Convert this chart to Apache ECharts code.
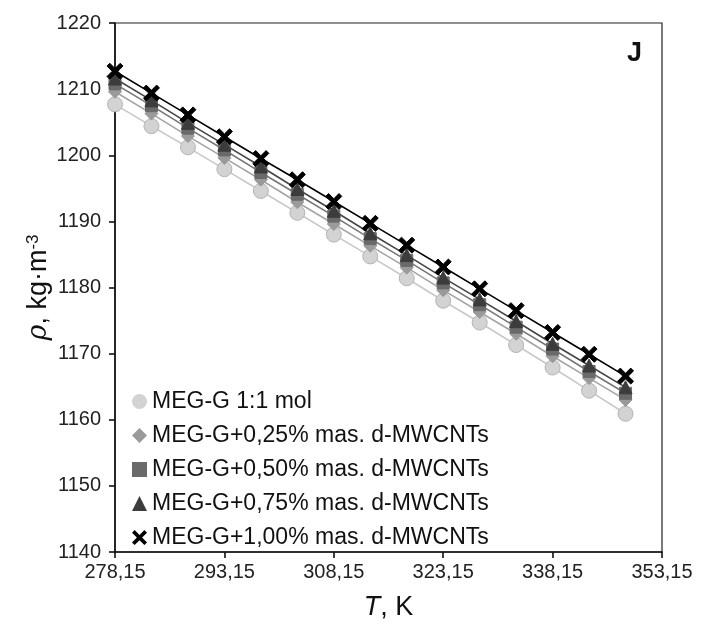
<!DOCTYPE html>
<html>
<head>
<meta charset="utf-8">
<script src="https://cdn.jsdelivr.net/npm/echarts@6/dist/echarts.min.js"></script>
<style>
  html, body { margin: 0; padding: 0; background: #fff; }
  #chart { width: 712px; height: 626px; }
</style>
</head>
<body>
<div id="chart"></div>
<script>
// Temperature points, K
const temperatures = [278.15, 283.15, 288.15, 293.15, 298.15, 303.15, 308.15, 313.15,
                      318.15, 323.15, 328.15, 333.15, 338.15, 343.15, 348.15];

// Density, kg·m-3
const rhoBase = [1207.7, 1204.4, 1201.2, 1197.9, 1194.6, 1191.3, 1188.0, 1184.7,
                 1181.4, 1178.0, 1174.7, 1171.3, 1167.9, 1164.4, 1160.9];
const rho025 = [1209.6, 1206.3, 1202.9, 1199.6, 1196.3, 1192.9, 1189.6, 1186.3,
                1183.0, 1179.6, 1176.3, 1173.0, 1169.6, 1166.3, 1163.0];
const rho050 = [1210.8, 1207.5, 1204.1, 1200.8, 1197.4, 1194.1, 1190.8, 1187.4,
                1184.1, 1180.7, 1177.4, 1174.0, 1170.7, 1167.3, 1164.0];
const rho075 = [1211.6, 1208.3, 1204.9, 1201.6, 1198.3, 1194.9, 1191.6, 1188.2,
                1184.9, 1181.5, 1178.2, 1174.9, 1171.5, 1168.2, 1164.9];
const rho100 = [1212.7, 1209.4, 1206.1, 1202.8, 1199.5, 1196.3, 1193.0, 1189.7,
                1186.4, 1183.1, 1179.8, 1176.5, 1173.2, 1169.9, 1166.6];

const seriesNames = [
  'MEG-G 1:1 mol',
  'MEG-G+0,25% mas. d-MWCNTs',
  'MEG-G+0,50% mas. d-MWCNTs',
  'MEG-G+0,75% mas. d-MWCNTs',
  'MEG-G+1,00% mas. d-MWCNTs'
];

const xTicks = { min: 278.15, max: 353.15, step: 15 };
const yTicks = { min: 1140, max: 1220, step: 10 };

const FONT = "'Liberation Sans', Arial, sans-serif";
const CROSS = 'path://M0,3.5 L3.5,0 L10,6.5 L16.5,0 L20,3.5 L13.5,10 L20,16.5 L16.5,20 L10,13.5 L3.5,20 L0,16.5 L6.5,10 Z';

const styles = [
  { symbol: 'circle',   size: 15, fill: '#d3d3d3', border: '#b4b4b4', line: '#c8c8c8' },
  { symbol: 'diamond',  size: 13, fill: '#9a9a9a', border: '#9a9a9a', line: '#a4a4a4' },
  { symbol: 'rect',     size: 12, fill: '#6a6a6a', border: '#6a6a6a', line: '#767676' },
  { symbol: 'triangle', size: 13, fill: '#3c3c3c', border: '#3c3c3c', line: '#454545' },
  { symbol: CROSS,      size: 16, fill: '#000000', border: '#000000', line: '#000000' }
];

const allData = [rhoBase, rho025, rho050, rho075, rho100];

const series = allData.map((vals, i) => ({
  name: seriesNames[i],
  type: 'line',
  data: temperatures.map((t, k) => [t, vals[k]]),
  symbol: styles[i].symbol,
  symbolSize: styles[i].size,
  showSymbol: true,
  lineStyle: { color: styles[i].line, width: 1.6 },
  itemStyle: { color: styles[i].fill, borderColor: styles[i].border, borderWidth: 1, opacity: 1 },
  z: 2 + i,
  animation: false
}));

const fmt = v => v.toFixed(2).replace('.', ',');

const chart = echarts.init(document.getElementById('chart'), null, { renderer: 'canvas' });
chart.setOption({
  backgroundColor: '#ffffff',
  animation: false,
  grid: {
    left: 115, right: 50, top: 23, bottom: 71,
    show: true, borderColor: '#222', borderWidth: 1.2, backgroundColor: 'transparent'
  },
  legend: {
    orient: 'vertical',
    left: 127,
    top: 385,
    itemWidth: 15,
    itemHeight: 15,
    itemGap: 11,
    textStyle: { fontFamily: FONT, fontSize: 23, color: '#111' },
    data: seriesNames.map((n, i) => ({
      name: n,
      icon: styles[i].symbol,
      itemStyle: { color: styles[i].fill, borderColor: styles[i].border, borderWidth: 0 }
    }))
  },
  xAxis: {
    type: 'value',
    min: xTicks.min,
    max: xTicks.max,
    interval: xTicks.step,
    name: '{i|T}{n|, K}',
    nameLocation: 'middle',
    nameGap: 42,
    nameTextStyle: {
      rich: {
        i: { fontFamily: FONT, fontStyle: 'italic', fontSize: 27, color: '#111' },
        n: { fontFamily: FONT, fontSize: 27, color: '#111' }
      }
    },
    axisLine: { lineStyle: { color: '#111', width: 1.6 } },
    axisTick: { show: true, inside: false, length: 6, lineStyle: { color: '#111', width: 1.6 } },
    axisLabel: {
      fontFamily: FONT, fontSize: 20, color: '#222', margin: 10,
      formatter: v => fmt(v)
    },
    splitLine: { show: false }
  },
  yAxis: {
    type: 'value',
    min: yTicks.min,
    max: yTicks.max,
    interval: yTicks.step,
    name: '{i|ρ}{n|, kg·m}{s|-3}',
    nameLocation: 'middle',
    nameRotate: 90,
    nameGap: 63,
    nameMoveOverlap: false,
    nameTextStyle: {
      rich: {
        i: { fontFamily: "'DejaVu Serif', serif", fontStyle: 'italic', fontSize: 27, color: '#111' },
        n: { fontFamily: FONT, fontSize: 27, color: '#111' },
        s: { fontFamily: FONT, fontSize: 17, color: '#111', verticalAlign: 'top' }
      }
    },
    axisLine: { show: true, lineStyle: { color: '#111', width: 1.6 } },
    axisTick: { show: true, inside: false, length: 6, lineStyle: { color: '#111', width: 1.6 } },
    axisLabel: {
      fontFamily: FONT, fontSize: 20, color: '#222', margin: 14,
      formatter: v => String(Math.round(v))
    },
    splitLine: { show: false }
  },
  graphic: [{
    type: 'text',
    left: 627,
    top: 40,
    style: { text: 'J', fontFamily: FONT, fontWeight: 'bold', fontSize: 27, fill: '#111' }
  }],
  series: series
});
</script>
</body>
</html>
